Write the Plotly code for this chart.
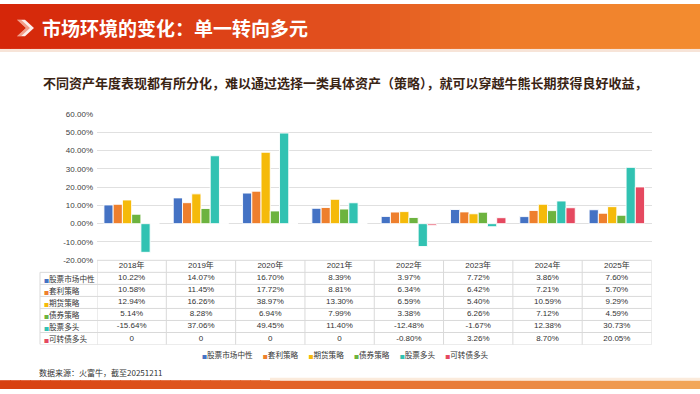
import plotly.graph_objects as go

W, H = 700, 394

def px(x):
    return x / W

def py(y):
    return 1 - y / H

# ---------------- data ----------------
years = ["2018年", "2019年", "2020年", "2021年", "2022年", "2023年", "2024年", "2025年"]
series_names = ["股票市场中性", "套利策略", "期货策略", "债券策略", "股票多头", "可转债多头"]
series_colors = ["#4472C4", "#EE7F2D", "#F5BA0A", "#6DB33F", "#31C2B2", "#E54960"]

market_neutral = [10.22, 14.07, 16.70, 8.39, 3.97, 7.72, 3.86, 7.60]
arbitrage = [10.58, 11.45, 17.72, 8.81, 6.34, 6.42, 7.21, 5.70]
futures = [12.94, 16.26, 38.97, 13.30, 6.59, 5.40, 10.59, 9.29]
bond = [5.14, 8.28, 6.94, 7.99, 3.38, 6.26, 7.12, 4.59]
equity_long = [-15.64, 37.06, 49.45, 11.40, -12.48, -1.67, 12.38, 30.73]
convertible_long = [0, 0, 0, 0, -0.80, 3.26, 8.70, 20.05]

series_values = [market_neutral, arbitrage, futures, bond, equity_long, convertible_long]

y_ticks = [-20, -10, 0, 10, 20, 30, 40, 50, 60]

title_text = "市场环境的变化：单一转向多元"
subtitle_text = "不同资产年度表现都有所分化，难以通过选择一类具体资产（策略），就可以穿越牛熊长期获得良好收益，"
source_text = "数据来源：火富牛，截至20251211"

# ---------------- layout constants (px) ----------------
PLOT_L, PLOT_R = 97, 651.5
PLOT_T, PLOT_B = 112.3, 262.3
TABLE_B = 348.5
TABLE_L = 40
GRID = "#E0E0E0"
TABLE_LINE = "#D9D9D9"
FONT = "Liberation Sans, Arial, Noto Sans CJK SC, sans-serif"
CJK = "Noto Sans CJK SC, sans-serif"


def fmt(v):
    return "0" if v == 0 else f"{v:.2f}%"


fig = go.Figure()

for name, vals, color in zip(series_names, series_values, series_colors):
    fig.add_trace(go.Bar(
        x=years, y=vals, name=name,
        marker=dict(color=color, line=dict(color="rgba(255,255,255,0.9)", width=1)),
        xaxis="x", yaxis="y", showlegend=False, hoverinfo="skip",
    ))

# table header (years)
fig.add_trace(go.Scatter(
    x=years, y=[0] * len(years), text=years, mode="text",
    textfont=dict(size=8, color="#333333", family=FONT),
    xaxis="x", yaxis="y2", showlegend=False, hoverinfo="skip", cliponaxis=False,
))
# table body
for i, vals in enumerate(series_values):
    fig.add_trace(go.Scatter(
        x=years, y=[i + 1] * len(years), text=[fmt(v) for v in vals], mode="text",
        textfont=dict(size=8, color="#333333", family=FONT),
        xaxis="x", yaxis="y2", showlegend=False, hoverinfo="skip", cliponaxis=False,
    ))

shapes = []

# banner gradient
def lerp_color(stops, t):
    for (t0, c0), (t1, c1) in zip(stops, stops[1:]):
        if t0 <= t <= t1:
            f = (t - t0) / (t1 - t0) if t1 > t0 else 0
            a = [int(c0[k:k + 2], 16) for k in (1, 3, 5)]
            b = [int(c1[k:k + 2], 16) for k in (1, 3, 5)]
            r = [round(a[j] + (b[j] - a[j]) * f) for j in range(3)]
            return "#%02X%02X%02X" % tuple(r)
    return stops[-1][1]

top_stops = [(0, "#D52509"), (0.5, "#E2521F"), (0.72, "#EE7A28"), (1, "#F38C30")]
bot_stops = [(0, "#D73F10"), (0.5, "#E4692B"), (1, "#F2A85A")]
N = 70
for k in range(N):
    x0 = W * k / N
    x1 = W * (k + 1) / N + 0.8
    tm = (k + 0.5) / N
    shapes.append(dict(type="rect", xref="paper", yref="paper", x0=px(x0), x1=px(x1),
                       y0=py(46), y1=py(0), fillcolor=lerp_color(top_stops, tm),
                       line=dict(width=0), layer="below"))
    shapes.append(dict(type="rect", xref="paper", yref="paper", x0=px(x0), x1=px(x1),
                       y0=py(394), y1=py(385), fillcolor=lerp_color(bot_stops, tm),
                       line=dict(width=0), layer="below"))
# pale band under banner
shapes.append(dict(type="rect", xref="paper", yref="paper", x0=0, x1=1, y0=py(49), y1=py(46),
                   fillcolor="#F7E4D8", line=dict(width=0), layer="below"))
# pale highlight on top of bottom bar
shapes.append(dict(type="rect", xref="paper", yref="paper", x0=px(270), x1=1, y0=py(385.5), y1=py(382.5),
                   fillcolor="#FBEBDC", line=dict(width=0), layer="below"))

# chevron icon
def p(x, y):
    return f"{px(x):.5f},{py(y):.5f}"

shapes.append(dict(type="path", xref="paper", yref="paper",
                   path=f"M{p(17,16)} L{p(25,16)} L{p(34,24.5)} L{p(25,33)} L{p(17,33)} L{p(26,24.5)} Z",
                   fillcolor="rgba(255,255,255,0.92)", line=dict(width=0)))
shapes.append(dict(type="path", xref="paper", yref="paper",
                   path=f"M{p(17,16)} L{p(21,16)} L{p(30,24.5)} L{p(21,33)} L{p(17,33)} L{p(26,24.5)} Z",
                   fillcolor="rgba(230,60,20,0.45)", line=dict(width=0)))

# table lines
n_rows = len(series_values) + 1
for b in range(n_rows):
    yb = b + 0.5
    shapes.append(dict(type="line", xref="paper", yref="y2", x0=px(TABLE_L), x1=px(PLOT_R),
                       y0=yb, y1=yb, line=dict(color=TABLE_LINE, width=1)))
shapes.append(dict(type="line", xref="paper", yref="paper", x0=px(PLOT_L), x1=px(PLOT_R),
                   y0=py(PLOT_B), y1=py(PLOT_B), line=dict(color=TABLE_LINE, width=1)))
for k in range(len(years) + 1):
    shapes.append(dict(type="line", xref="x", yref="paper", x0=k - 0.5, x1=k - 0.5,
                       y0=py(TABLE_B), y1=py(PLOT_B), line=dict(color=TABLE_LINE, width=1)))
shapes.append(dict(type="line", xref="paper", yref="y2", x0=px(TABLE_L), x1=px(TABLE_L),
                   y0=0.5, y1=n_rows - 0.5, line=dict(color=TABLE_LINE, width=1)))

annotations = []
# row labels
for i, (name, color) in enumerate(zip(series_names, series_colors)):
    annotations.append(dict(
        xref="paper", yref="y2", x=px(42), y=i + 1, xanchor="left", yanchor="middle",
        text=f"<span style='font-size:5px;color:{color}'>■</span>{name}",
        showarrow=False, font=dict(size=7.6, color="#333333", family=CJK),
    ))

# legend
legend_text = "\u00a0\u00a0\u00a0\u00a0\u00a0\u00a0".join(
    f"<span style='font-size:5px;color:{c}'>■</span>{n}" for n, c in zip(series_names, series_colors)
)
annotations.append(dict(xref="paper", yref="paper", x=px(345), y=py(359), xanchor="center",
                        yanchor="middle", text=legend_text, showarrow=False,
                        font=dict(size=7.6, color="#333333", family=CJK)))

# title / subtitle / source
annotations.append(dict(xref="paper", yref="paper", x=px(40), y=py(24.5), xanchor="left",
                        yanchor="middle", text=title_text, showarrow=False,
                        font=dict(size=19, color="white", family=CJK, weight="bold")))
annotations.append(dict(xref="paper", yref="paper", x=px(41), y=py(80), xanchor="left",
                        yanchor="middle", text=subtitle_text, showarrow=False,
                        font=dict(size=13, color="#3A2414", family=CJK, weight="bold")))
annotations.append(dict(xref="paper", yref="paper", x=px(37), y=py(377), xanchor="left",
                        yanchor="middle", text=source_text, showarrow=False,
                        font=dict(size=8, color="#333333", family=CJK)))

fig.update_layout(
    width=W, height=H, autosize=False,
    margin=dict(l=0, r=0, t=0, b=0, pad=0),
    paper_bgcolor="white", plot_bgcolor="rgba(0,0,0,0)",
    barmode="group", bargap=0.2, bargroupgap=0,
    font=dict(family=FONT, size=8, color="#404040"),
    xaxis=dict(type="category", domain=[px(PLOT_L), px(PLOT_R)], range=[-0.5, len(years) - 0.5],
               showticklabels=False, showgrid=False, zeroline=False, showline=False,
               anchor="y", fixedrange=True),
    yaxis=dict(domain=[py(PLOT_B), py(PLOT_T)], range=[-20, 60],
               tickvals=y_ticks, ticktext=[f"{v:.2f}%" for v in y_ticks],
               showgrid=True, gridcolor=GRID, gridwidth=1, zeroline=True, zerolinecolor=GRID,
               zerolinewidth=1, showline=False, ticks="", ticklabelstandoff=3,
               tickfont=dict(size=8, color="#404040", family=FONT), anchor="x", fixedrange=True),
    yaxis2=dict(domain=[py(TABLE_B), py(PLOT_B)], range=[n_rows - 0.5, -0.5], visible=False,
                anchor="x", fixedrange=True),
    shapes=shapes, annotations=annotations,
)

fig.write_html(
    "out.html",
    config={"displayModeBar": False},
    post_script="document.body.style.margin='0';document.body.style.padding='0';document.body.style.overflow='hidden';",
)
